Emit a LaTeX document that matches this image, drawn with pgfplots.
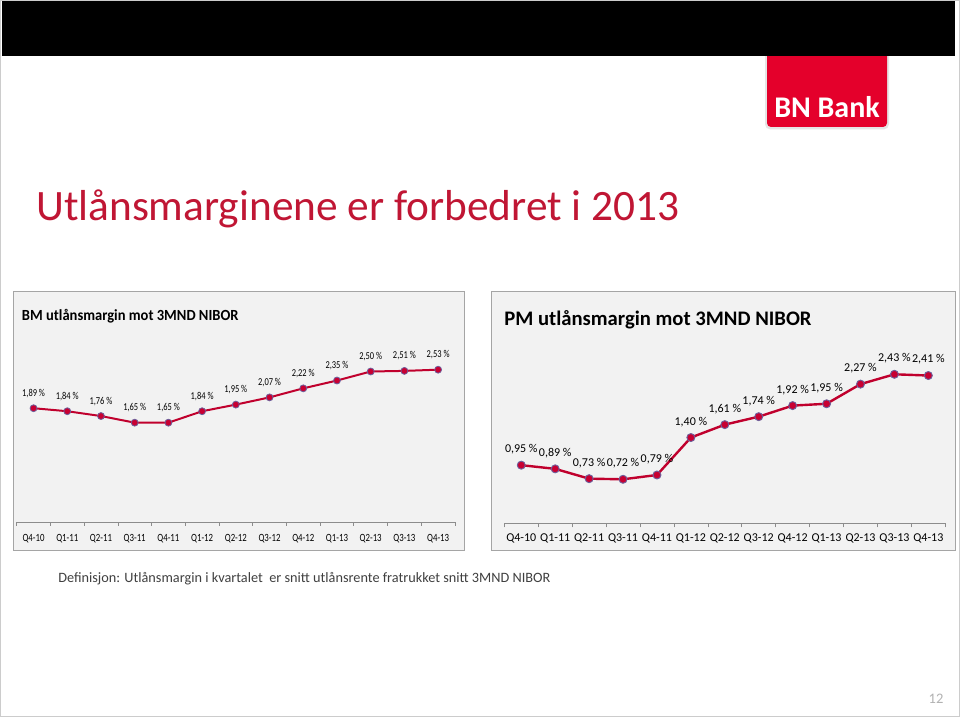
\documentclass[border=0pt]{standalone}
\usepackage{pgfplots}
\pgfplotsset{compat=1.18}
\usepackage{graphicx}
\usepackage{fontspec}
\setmainfont{Carlito}
\definecolor{titlered}{RGB}{192,22,52}
\definecolor{linered}{RGB}{192,0,45}
\definecolor{mkfill}{RGB}{200,0,50}
\definecolor{mkedge}{RGB}{110,95,155}
\definecolor{boxfill}{RGB}{242,242,242}
\definecolor{boxdraw}{RGB}{165,165,165}
\definecolor{axgray}{RGB}{140,140,140}
\definecolor{logored}{RGB}{228,0,43}
\definecolor{deftext}{RGB}{64,64,64}
\newcommand{\fs}[1]{\fontsize{#1}{#1}\selectfont}
\newcommand{\sq}[1]{\scalebox{0.8}[1]{#1}}
\pgfplotsset{
  marginstyle/.style={
    scale only axis, clip=false,
    xmin=-0.5, xmax=12.5, ymin=0, ymax=3,
    axis y line=none, axis x line*=bottom,
    axis line style={-, axgray, line width=0.6pt},
    xtick={0,...,12},
    major x tick style={draw=none},
    minor xtick={-0.5,0.5,...,12.5},
    minor x tick style={axgray, line width=0.5pt},
    minor tick length=3pt, major tick length=0pt,
    xtick align=outside,
    /pgf/number format/assume math mode=true,
  }
}
\begin{document}
\begin{tikzpicture}[x=0.75pt,y=0.75pt]
\path[use as bounding box] (0,0) rectangle (960,717);
\fill[white] (0,0) rectangle (960,717);
\draw[gray!40, line width=0.75pt] (0.5,0.5) rectangle (959.5,716.5);
% logo
\fill[gray!20, rounded corners=4pt] (765,587.5) rectangle (889,680);
\fill[logored, rounded corners=3pt] (767,590) rectangle (887,680);
\fill[black] (1.5,661) rectangle (955,715.5);
\node[anchor=base, text=white, font=\bfseries\fs{22.5pt}, inner sep=0] at (827,599) {BN Bank};
% title
\node[anchor=base west, inner sep=0, text=titlered, font=\fs{32.5pt}] at (36,496) {Utlånsmarginene er forbedret i 2013};
% boxes
\filldraw[fill=boxfill, draw=boxdraw, line width=0.75pt] (13,166) rectangle (464,425);
\filldraw[fill=boxfill, draw=boxdraw, line width=0.75pt] (491.5,166) rectangle (955.5,425.5);
\node[anchor=base west, inner sep=0, font=\bfseries\fs{11.6pt}] at (21.7,396.3) {\scalebox{0.94}[1]{BM utlånsmargin mot 3MND NIBOR}};
\node[anchor=base west, inner sep=0, font=\bfseries\fs{15.5pt}] at (504,391.3) {PM utlånsmargin mot 3MND NIBOR};
% left chart
\begin{axis}[marginstyle,
  at={(12.525pt,146.25pt)}, anchor=south west,
  width=328.7pt, height=135.45pt,
  xticklabels={\sq{Q4-10},\sq{Q1-11},\sq{Q2-11},\sq{Q3-11},\sq{Q4-11},\sq{Q1-12},\sq{Q2-12},\sq{Q3-12},\sq{Q4-12},\sq{Q1-13},\sq{Q2-13},\sq{Q3-13},\sq{Q4-13}},
  xticklabel style={font=\fs{8.25pt}, anchor=base, yshift=-14.3pt, inner sep=0},
  nodes near coords={\scalebox{0.8}[1]{\pgfmathprintnumber[fixed,fixed zerofill,precision=2,use comma]{\pgfplotspointmeta}\ \%}},
  every node near coord/.append style={font=\fs{7.9pt}, anchor=base, yshift=9pt, inner sep=0, text=black},
]
\addplot[linered, line width=1.5pt, mark=*, mark size=2.6pt, mark options={fill=mkfill, draw=mkedge, line width=0.6pt}]
coordinates {(0,1.89) (1,1.84) (2,1.76) (3,1.65) (4,1.65) (5,1.84) (6,1.95) (7,2.07) (8,2.22) (9,2.35) (10,2.50) (11,2.51) (12,2.53)};
\end{axis}
% right chart
\begin{axis}[marginstyle,
  at={(378.225pt,145.125pt)}, anchor=south west,
  width=330.75pt, height=138.15pt,
  xticklabels={Q4-10,Q1-11,Q2-11,Q3-11,Q4-11,Q1-12,Q2-12,Q3-12,Q4-12,Q1-13,Q2-13,Q3-13,Q4-13},
  xticklabel style={font=\fs{9pt}, anchor=base, yshift=-13.7pt, inner sep=0},
  nodes near coords={\pgfmathprintnumber[fixed,fixed zerofill,precision=2,use comma]{\pgfplotspointmeta}\ \%},
  every node near coord/.append style={font=\fs{9pt}, anchor=base, yshift=9.4pt, inner sep=0, text=black},
]
\addplot[linered, line width=1.8pt, mark=*, mark size=3pt, mark options={fill=mkfill, draw=mkedge, line width=0.7pt}]
coordinates {(0,0.95) (1,0.89) (2,0.73) (3,0.72) (4,0.79) (5,1.40) (6,1.61) (7,1.74) (8,1.92) (9,1.95) (10,2.27) (11,2.43) (12,2.41)};
\end{axis}
% footer
\node[anchor=base west, inner sep=0, text=deftext, font=\fs{10.7pt}] at (58,134.3) {Definisjon: Utlånsmargin i kvartalet\ \ er snitt utlånsrente fratrukket snitt 3MND NIBOR};
\node[anchor=base, inner sep=0, text=gray!60, font=\fs{10.9pt}] at (936,13) {12};
\end{tikzpicture}
\end{document}
